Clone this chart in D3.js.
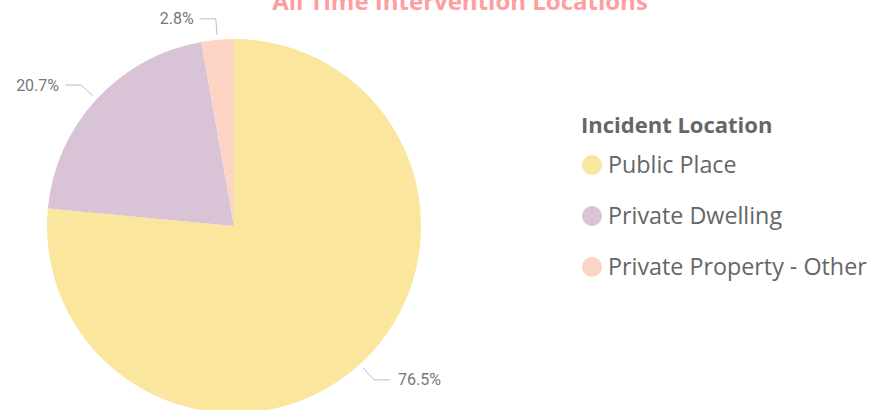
<!DOCTYPE html>
<html>
<head>
<meta charset="utf-8">
<script src="https://cdn.jsdelivr.net/npm/d3@7/dist/d3.min.js"></script>
<style>
  html, body { margin: 0; padding: 0; background: #ffffff; }
  svg { display: block; }
</style>
</head>
<body>
<svg id="chart" width="874" height="410"></svg>
<script>
const categories = ["Public Place", "Private Dwelling", "Private Property - Other"];
const values = [76.5, 20.7, 2.8];
const labels = ["76.5%", "20.7%", "2.8%"];
const colors = ["#FAE69D", "#D9C3D6", "#FDD3C4"];
const chartTitle = "All Time Intervention Locations";
const legendTitle = "Incident Location";

const svg = d3.select("#chart");
const W = 874, H = 410;
const cx = 234, cy = 226, R = 187;

// title (clipped at the top edge, as in the reference)
svg.append("text")
  .attr("x", 460).attr("y", 10)
  .attr("text-anchor", "middle")
  .attr("font-family", "'Open Sans', 'Noto Sans', sans-serif")
  .attr("font-weight", "bold")
  .attr("font-size", 24)
  .attr("fill", "#FF9E9E")
  .text(chartTitle);

const data = categories.map((c, i) => ({ cat: c, value: values[i], label: labels[i], color: colors[i] }));

const pie = d3.pie().value(d => d.value).sort(null);
const arcs = pie(data);
const arc = d3.arc().innerRadius(0).outerRadius(R);

const g = svg.append("g").attr("transform", `translate(${cx},${cy})`);
g.selectAll("path.slice")
  .data(arcs)
  .enter().append("path")
  .attr("class", "slice")
  .attr("d", arc)
  .attr("fill", d => d.data.color)
  .attr("stroke", "none");

// leader lines + labels
const r1 = 192, r2 = 208, horiz = 16, gap = 6;
arcs.forEach(a => {
  const m = (a.startAngle + a.endAngle) / 2;
  const p1 = [Math.sin(m) * r1, -Math.cos(m) * r1];
  const p2 = [Math.sin(m) * r2, -Math.cos(m) * r2];
  const right = Math.sin(m) >= 0;
  const p3 = [p2[0] + (right ? horiz : -horiz), p2[1]];
  g.append("polyline")
    .attr("points", [p1, p2, p3].map(p => p.join(",")).join(" "))
    .attr("fill", "none")
    .attr("stroke", "#BDBDBD")
    .attr("stroke-width", 1);
  g.append("text")
    .attr("x", p3[0] + (right ? gap + 2 : -gap))
    .attr("y", p3[1])
    .attr("dy", "0.35em")
    .attr("text-anchor", right ? "start" : "end")
    .attr("font-family", "Roboto, 'DejaVu Sans', sans-serif")
    .attr("font-size", 16)
    .attr("fill", "#777777")
    .text(a.data.label);
});

// legend
const lg = svg.append("g").attr("transform", "translate(581,0)");
lg.append("text")
  .attr("x", 0).attr("y", 133)
  .attr("font-family", "'Open Sans', 'Noto Sans', sans-serif")
  .attr("font-weight", "bold")
  .attr("font-size", 22)
  .attr("fill", "#666666")
  .text(legendTitle);

const legendY = d3.scalePoint().domain(categories).range([165, 267]);
const items = lg.selectAll("g.item").data(data).enter().append("g")
  .attr("class", "item")
  .attr("transform", d => `translate(0,${legendY(d.cat)})`);
items.append("circle")
  .attr("cx", 11).attr("cy", 0).attr("r", 10)
  .attr("fill", d => d.color);
items.append("text")
  .attr("x", 27).attr("y", 0).attr("dy", "0.35em")
  .attr("font-family", "'Open Sans', 'Noto Sans', sans-serif")
  .attr("font-size", 23.3)
  .attr("fill", "#666666")
  .text(d => d.cat);
</script>
</body>
</html>
